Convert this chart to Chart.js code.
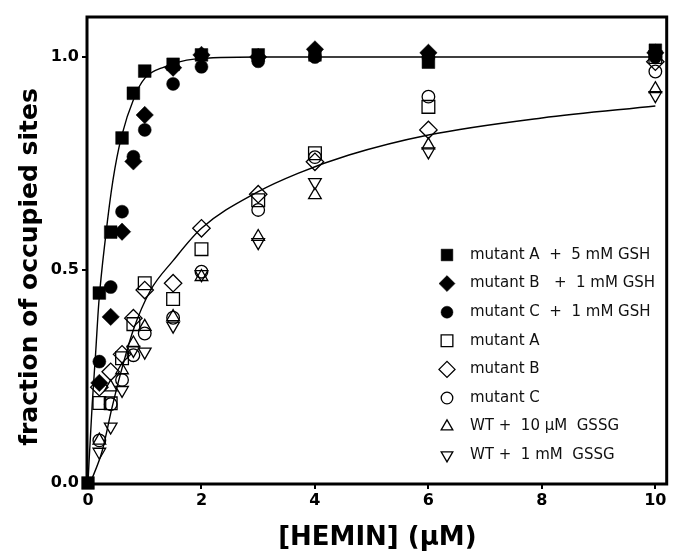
<!DOCTYPE html>
<html><head><meta charset="utf-8">
<script src="https://cdn.jsdelivr.net/npm/chart.js@4/dist/chart.umd.min.js"></script>
<style>html,body{margin:0;padding:0;background:#fff}#wrap{width:677px;height:557px}</style>
</head><body><div id="wrap"><canvas id="c" width="677" height="557"></canvas></div>
<script>
// ---- data ----
const hemin = [0.2, 0.4, 0.6, 0.8, 1.0, 1.5, 2, 3, 4, 6, 10];
const mutAGsh = [0.446, 0.589, 0.81, 0.915, 0.967, 0.983, 1.005, 1.005, 1.005, 0.988, 1.016];
const mutBGsh = [0.235, 0.39, 0.59, 0.755, 0.864, 0.975, 1.005, 1.0, 1.018, 1.01, 1.01];
const mutCGsh = [0.285, 0.46, 0.637, 0.766, 0.829, 0.937, 0.977, 0.99, 1.0, 1.0, 1.0];
const mutA = [0.188, 0.187, 0.293, 0.373, 0.469, 0.432, 0.549, 0.664, 0.774, 0.883, 1.0];
const mutB = [0.225, 0.261, 0.302, 0.387, 0.453, 0.469, 0.598, 0.678, 0.754, 0.829, 0.989];
const mutC = [0.10, 0.185, 0.242, 0.30, 0.351, 0.388, 0.496, 0.641, 0.765, 0.907, 0.966];
const wt10uM = [0.10, 0.225, 0.265, 0.328, 0.367, 0.39, 0.484, 0.578, 0.676, 0.793, 0.925];
const wt1mM = [0.073, 0.132, 0.218, 0.312, 0.308, 0.369, 0.49, 0.565, 0.706, 0.778, 0.91];
const origin = [{x: 0, y: 0}];

const fastFitX = [0, 0.02, 0.075, 0.134, 0.19, 0.31, 0.44, 0.59, 0.82, 1.0, 1.35, 1.87, 3, 6, 10];
const fastFitY = [0, 0.054, 0.187, 0.304, 0.422, 0.578, 0.711, 0.813, 0.907, 0.95, 0.977, 0.995, 1.0, 1.0, 1.0];
const slowFitX = [0.04, 0.25, 0.42, 0.57, 0.8, 1.1, 1.5, 2.0, 3.0, 3.7, 4.6, 6, 8, 10];
const slowFitY = [0, 0.075, 0.175, 0.255, 0.36, 0.452, 0.522, 0.598, 0.684, 0.727, 0.77, 0.817, 0.857, 0.885];

const xTicks = [0, 2, 4, 6, 8, 10];
const yTicks = [0, 0.5, 1.0];
const xTitle = '[HEMIN] (\u00b5M)';
const yTitle = 'fraction of occupied sites';
const seriesLabels = [
  'mutant A  +  5 mM GSH',
  'mutant B   +  1 mM GSH',
  'mutant C  +  1 mM GSH',
  'mutant A',
  'mutant B',
  'mutant C',
  'WT +  10 \u00b5M  GSSG',
  'WT +  1 mM  GSSG'
];

// ---- build ----
const pts = (ys) => hemin.map((x, i) => ({x: x, y: ys[i]}));
const curve = (xs, ys) => xs.map((x, i) => ({x: x, y: ys[i]}));

const styles = [
  {pointStyle: 'rect', radius: 9, filled: true, rotation: 0},
  {pointStyle: 'rectRot', radius: 8.7, filled: true, rotation: 0},
  {pointStyle: 'circle', radius: 6.5, filled: true, rotation: 0},
  {pointStyle: 'rect', radius: 9, filled: false, rotation: 0},
  {pointStyle: 'rectRot', radius: 8.7, filled: false, rotation: 0},
  {pointStyle: 'circle', radius: 6.3, filled: false, rotation: 0},
  {pointStyle: 'triangle', radius: 7.3, filled: false, rotation: 0},
  {pointStyle: 'triangle', radius: 7.3, filled: false, rotation: 180}
];
const seriesData = [
  origin.concat(pts(mutAGsh)), pts(mutBGsh), pts(mutCGsh),
  pts(mutA), pts(mutB), pts(mutC), pts(wt10uM), pts(wt1mM)
];

const datasets = seriesData.map((d, i) => ({
  label: seriesLabels[i],
  data: d,
  pointStyle: styles[i].pointStyle,
  pointRadius: styles[i].radius,
  pointHoverRadius: styles[i].radius,
  pointRotation: styles[i].rotation,
  pointBackgroundColor: styles[i].filled ? '#000' : 'rgba(0,0,0,0)',
  pointBorderColor: '#000',
  pointBorderWidth: styles[i].filled ? 0.5 : 1.3,
  showLine: false,
  clip: false,
  legendRow: i
}));
datasets.push({
  label: 'fit1', data: curve(fastFitX, fastFitY), showLine: true, pointRadius: 0,
  borderColor: '#000', borderWidth: 1.4, cubicInterpolationMode: 'monotone', fill: false
});
datasets.push({
  label: 'fit2', data: curve(slowFitX, slowFitY), showLine: true, pointRadius: 0,
  borderColor: '#000', borderWidth: 1.4, cubicInterpolationMode: 'monotone', fill: false
});

const framePlugin = {
  id: 'frame',
  beforeDatasetsDraw(chart) {
    const {ctx, chartArea: a} = chart;
    ctx.save();
    ctx.strokeStyle = '#000';
    ctx.lineWidth = 3;
    ctx.strokeRect(a.left - 1, a.top, a.right - a.left + 1, a.bottom - a.top + 1);
    // y-axis title
    ctx.translate(30, 267);
    ctx.rotate(-Math.PI / 2);
    ctx.fillStyle = '#000';
    ctx.font = 'bold 25px "DejaVu Sans"';
    ctx.textAlign = 'center';
    ctx.textBaseline = 'middle';
    ctx.fillText(yTitle, 0, 0);
    ctx.restore();
  }
};

const legendPlugin = {
  id: 'insideLegend',
  afterDatasetsDraw(chart) {
    const {ctx, chartArea: a} = chart;
    ctx.save();
    chart.data.datasets.forEach((ds) => {
      if (ds.legendRow === undefined) return;
      const y = a.top + 238 + ds.legendRow * 28.6;
      const x = a.left + 359;
      ctx.fillStyle = ds.pointBackgroundColor;
      ctx.strokeStyle = '#000';
      ctx.lineWidth = ds.pointBorderWidth;
      Chart.helpers.drawPoint(ctx, {
        pointStyle: ds.pointStyle, radius: ds.pointRadius * 0.92,
        rotation: ds.pointRotation, borderWidth: ds.pointBorderWidth
      }, x, y);
      ctx.fillStyle = '#111';
      ctx.font = '15px "DejaVu Sans"';
      ctx.textAlign = 'left';
      ctx.textBaseline = 'middle';
      ctx.fillText(ds.label, x + 23, y);
    });
    ctx.restore();
  }
};

const tickFont = {family: 'DejaVu Sans', size: 16, weight: 'bold'};

new Chart(document.getElementById('c'), {
  type: 'scatter',
  data: {datasets: datasets},
  options: {
    responsive: false,
    animation: false,
    devicePixelRatio: 1,
    layout: {padding: {top: 17, right: 6, left: 0, bottom: 0}},
    plugins: {legend: {display: false}, tooltip: {enabled: false}},
    scales: {
      x: {
        type: 'linear', min: 0, max: 10.2,
        afterFit: (s) => { s.height = 74; },
        afterBuildTicks: (s) => { s.ticks = xTicks.map(v => ({value: v})); },
        border: {display: false},
        grid: {drawOnChartArea: false, drawTicks: true, tickLength: 6, color: '#000', lineWidth: 2},
        ticks: {color: '#000', font: tickFont, padding: 2, maxRotation: 0,
                callback: (v) => String(v)},
        title: {display: true, text: xTitle, color: '#000',
                font: {family: 'DejaVu Sans', size: 26, weight: 'bold'},
                padding: {top: 0, bottom: 3}}
      },
      y: {
        type: 'linear', min: 0, max: 1.094,
        afterFit: (s) => { s.width = 88; },
        afterBuildTicks: (s) => { s.ticks = yTicks.map(v => ({value: v})); },
        border: {display: false},
        grid: {drawOnChartArea: false, drawTicks: true, tickLength: 6, color: '#000', lineWidth: 2},
        ticks: {color: '#000', font: tickFont, padding: 3,
                callback: (v) => Number(v).toFixed(1)},
        title: {display: false}
      }
    }
  },
  plugins: [framePlugin, legendPlugin]
});
</script></body></html>
